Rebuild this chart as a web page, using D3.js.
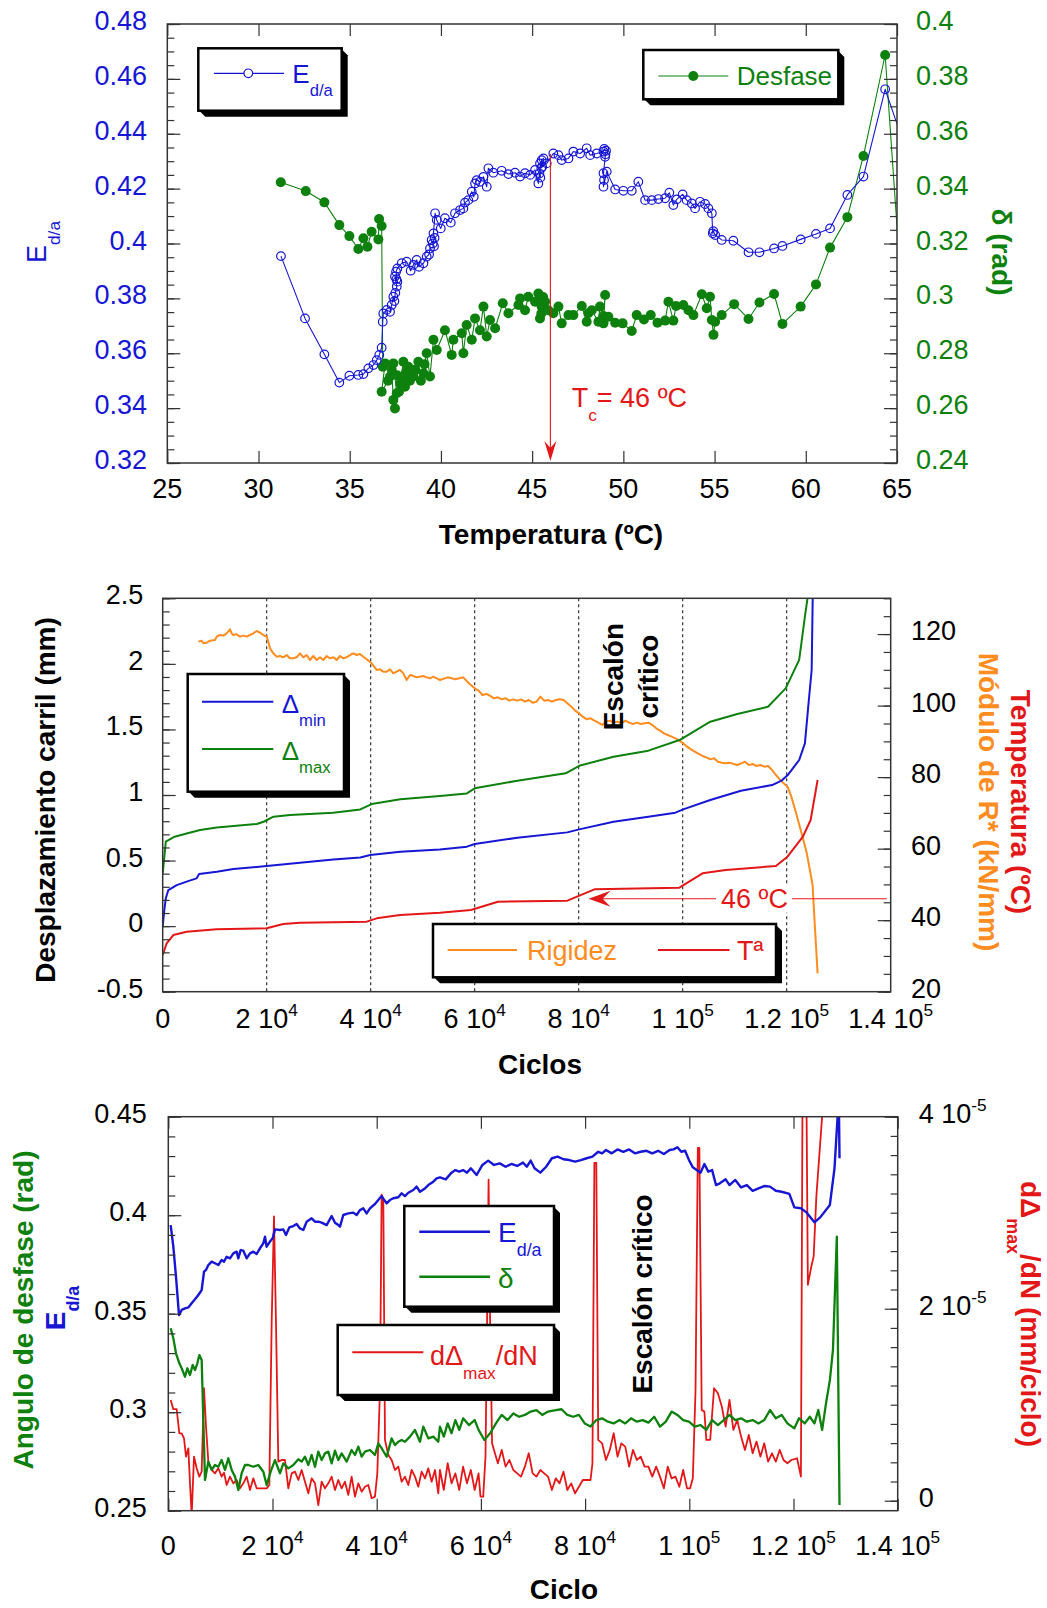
<!DOCTYPE html>
<html>
<head>
<meta charset="utf-8">
<script src="https://cdn.jsdelivr.net/npm/d3@7/dist/d3.min.js"></script>
<style>
  html, body { margin: 0; padding: 0; background: #fff; }
  svg text { font-family: "Liberation Sans", Arial, Helvetica, sans-serif; }
</style>
</head>
<body>
<svg id="chart" width="1047" height="1608"></svg>
<script>
// ================= DATA =================

// --- Panel 1: modulus ratio and phase lag versus temperature ---
const tempTicks = [25, 30, 35, 40, 45, 50, 55, 60, 65];
const edaTicks1 = [0.32, 0.34, 0.36, 0.38, 0.40, 0.42, 0.44, 0.46, 0.48];
const deltaTicks1 = [0.24, 0.26, 0.28, 0.30, 0.32, 0.34, 0.36, 0.38, 0.40];

// [temperature ºC, E d/a]
const edaVsTemp = [
  [31.23,0.3954],[32.55,0.3727],[33.61,0.3596],[34.43,0.3493],[34.98,0.3518],[35.47,0.3521],[35.75,0.3524],
  [36.02,0.3545],[36.30,0.3557],[36.48,0.3575],[36.62,0.3594],[36.75,0.3620],[36.81,0.3715],[36.84,0.3745],
  [37.03,0.3758],[37.21,0.3751],[37.30,0.3776],[37.39,0.3806],[37.45,0.3790],[37.50,0.3820],[37.58,0.3843],
  [37.48,0.3880],[37.56,0.3870],[37.61,0.3861],[37.54,0.3897],[37.61,0.3909],[37.85,0.3928],[38.12,0.3934],
  [38.34,0.3901],[38.49,0.3922],[38.67,0.3940],[38.80,0.3915],[39.04,0.3928],[39.22,0.3952],[39.35,0.3960],
  [39.40,0.3982],[39.62,0.3990],[39.49,0.4013],[39.55,0.4000],[39.65,0.4020],[39.59,0.4037],[39.68,0.4110],
  [39.77,0.4086],[39.99,0.4055],[40.22,0.4092],[40.54,0.4076],[40.77,0.4110],[41.05,0.4122],[41.23,0.4128],
  [41.32,0.4149],[41.50,0.4158],[41.69,0.4189],[41.80,0.4170],[41.87,0.4219],[41.96,0.4231],[42.14,0.4225],
  [42.33,0.4243],[42.51,0.4207],[42.60,0.4274],[42.87,0.4258],[43.33,0.4265],[43.70,0.4253],[44.06,0.4258],
  [44.34,0.4244],[44.61,0.4256],[44.89,0.4250],[45.16,0.4268],[45.34,0.4219],[45.40,0.4255],[45.45,0.4240],
  [45.43,0.4292],[45.50,0.4275],[45.52,0.4304],[45.62,0.4310],[45.55,0.4280],[45.80,0.4292],[46.16,0.4328],
  [46.44,0.4322],[46.62,0.4304],[46.99,0.4310],[47.26,0.4335],[47.63,0.4328],[47.99,0.4347],[48.18,0.4322],
  [48.54,0.4328],[48.91,0.4335],[48.95,0.4345],[49.05,0.4338],[49.00,0.4316],[49.02,0.4325],[48.91,0.4256],
  [48.94,0.4231],[48.91,0.4207],[49.09,0.4262],[49.55,0.4197],[50.00,0.4192],[50.46,0.4192],[50.82,0.4225],
  [51.19,0.4158],[51.56,0.4158],[51.92,0.4162],[52.29,0.4165],[52.52,0.4185],[52.74,0.4140],[52.93,0.4161],
  [53.25,0.4179],[53.47,0.4158],[53.75,0.4146],[53.93,0.4128],[54.20,0.4152],[54.48,0.4144],[54.66,0.4128],
  [54.85,0.4110],[54.90,0.4037],[54.93,0.4045],[55.03,0.4031],[55.39,0.4013],[56.03,0.4010],[56.86,0.3968],
  [57.46,0.3968],[58.26,0.3982],[58.72,0.3991],[59.72,0.4015],[60.56,0.4035],[61.33,0.4055],[62.28,0.4177],
  [63.16,0.4244],[64.35,0.4562],[65.60,0.4320]
];

// [temperature ºC, phase lag rad]
const desfaseVsTemp = [
  [31.22,0.3423],[32.59,0.3391],[33.61,0.3350],[34.43,0.3267],[34.98,0.3227],[35.47,0.3180],[35.75,0.3219],
  [35.97,0.3188],[36.20,0.3243],[36.57,0.3215],[36.61,0.3289],[36.75,0.3264],[36.81,0.2751],[36.94,0.2763],
  [36.75,0.2660],[37.10,0.2700],[37.21,0.2715],[37.30,0.2740],[37.39,0.2630],[37.48,0.2599],[37.58,0.2654],
  [37.39,0.2763],[37.60,0.2720],[37.70,0.2660],[37.76,0.2690],[37.94,0.2769],[37.90,0.2700],[38.03,0.2678],
  [38.10,0.2730],[38.21,0.2751],[38.30,0.2700],[38.49,0.2715],[38.60,0.2740],[38.76,0.2769],[38.90,0.2700],
  [39.04,0.2727],[39.10,0.2760],[39.22,0.2800],[39.40,0.2715],[39.59,0.2849],[39.77,0.2812],[40.22,0.2884],
  [40.59,0.2794],[40.68,0.2849],[41.14,0.2873],[41.23,0.2800],[41.41,0.2903],[41.69,0.2849],[41.87,0.2927],
  [42.14,0.2884],[42.33,0.2970],[42.51,0.2861],[42.69,0.2921],[42.97,0.2891],[43.39,0.2982],[43.70,0.2946],
  [44.25,0.2976],[44.34,0.3000],[44.61,0.2957],[44.79,0.3006],[45.16,0.2988],[45.34,0.3018],[45.43,0.2927],
  [45.52,0.2970],[45.60,0.3005],[45.71,0.2988],[45.50,0.2945],[45.89,0.2957],[46.16,0.2946],[46.44,0.2970],
  [46.62,0.2909],[46.99,0.2939],[47.26,0.2939],[47.72,0.2972],[47.99,0.2915],[48.08,0.2946],[48.27,0.2957],
  [48.63,0.2915],[48.72,0.2970],[48.91,0.2936],[49.00,0.3012],[48.91,0.2909],[49.18,0.2933],[49.55,0.2911],
  [49.96,0.2909],[50.46,0.2881],[50.73,0.2939],[51.13,0.2923],[51.50,0.2939],[51.87,0.2911],[52.29,0.2919],
  [52.47,0.2988],[52.74,0.2919],[52.89,0.2972],[53.29,0.2976],[53.57,0.2957],[53.84,0.2939],[54.30,0.3015],
  [54.57,0.2964],[54.75,0.3006],[54.85,0.2921],[54.94,0.2867],[55.03,0.2915],[55.39,0.2939],[56.07,0.2979],
  [56.86,0.2925],[57.46,0.2985],[58.26,0.3016],[58.72,0.2907],[59.72,0.2970],[60.56,0.3051],[61.33,0.3185],
  [62.28,0.3296],[63.16,0.3519],[64.35,0.3887],[65.60,0.2683]
];
const criticalTemp = 46;

// --- Panel 2: rail displacement, stiffness and temperature versus cycles ---
const cycleTicks = [0, 20000, 40000, 60000, 80000, 100000, 120000, 140000];
const cycleLabels = ["0", "2 10^4", "4 10^4", "6 10^4", "8 10^4", "1 10^5", "1.2 10^5", "1.4 10^5"];
const dispTicks = [-0.5, 0, 0.5, 1, 1.5, 2, 2.5];
const rightTicks2 = [20, 40, 60, 80, 100, 120];
const gridCycles = [20000, 40000, 60000, 80000, 100000, 120000];

// [cycles, mm]
const deltaMin = [
  [0,0.0],[300,0.12],[600,0.212],[1083,0.275],[2700,0.313],[4600,0.339],[6500,0.364],[7000,0.397],
  [10400,0.415],[13600,0.435],[20000,0.458],[26400,0.484],[32800,0.509],[38000,0.524],[39900,0.542],
  [45700,0.567],[53300,0.585],[58500,0.606],[60000,0.626],[68200,0.674],[77800,0.715],[80100,0.738],
  [86700,0.796],[93400,0.834],[98600,0.865],[100100,0.890],[105300,0.962],[111200,1.033],[117200,1.076],
  [119000,1.109],[120200,1.152],[122400,1.267],[123500,1.394],[124200,1.699],[124800,1.953],[125000,2.50],
  [125200,2.90]
];
const deltaMax = [
  [0,0.402],[600,0.644],[2300,0.682],[4600,0.707],[7200,0.733],[10400,0.753],[18100,0.779],[19400,0.796],
  [21300,0.835],[24500,0.847],[32800,0.865],[38000,0.890],[40200,0.931],[45700,0.967],[53300,0.992],
  [58500,1.012],[60000,1.051],[68200,1.109],[77500,1.165],[80100,1.223],[86700,1.292],[93400,1.338],
  [99400,1.419],[105300,1.559],[110500,1.618],[116400,1.673],[119800,1.813],[122400,2.030],[123500,2.360],
  [124000,2.50],[124300,2.80]
];
// [cycles, ºC]
const temperatura = [
  [0,30.26],[762,33.52],[2045,35.85],[4609,36.78],[10378,37.44],[19993,37.72],[23198,38.93],[26403,39.3],
  [39223,39.58],[41146,40.51],[45633,41.45],[53325,42.09],[59265,42.84],[64463,45.17],[77828,45.45],
  [83025,48.62],[99360,49.09],[103815,53.1],[108270,54.03],[117923,55.15],[120150,57.76],[123120,63.35],
  [124605,68.01],[125942,79.2]
];
// [cycles, kN/mm]
const rigidez = [
  [6853,117.88],[7494,118.16],[7814,117.41],[8455,117.6],[9096,118.16],[10058,118.35],[10378,119.28],
  [11019,119.74],[11660,119.56],[12301,120.21],[12942,121.33],[13263,120.21],[13583,119.74],[14224,119.93],
  [14865,119.28],[15506,119.56],[16147,119.28],[16788,119.74],[17429,120.21],[18070,120.86],[18711,120.40],
  [19352,119.74],[19993,119.28],[20314,117.88],[20634,116.01],[21275,114.62],[21916,113.68],[22557,113.87],
  [23198,113.5],[23839,114.15],[24480,113.22],[25121,113.22],[25762,113.5],[26403,114.62],[27044,113.5],
  [27685,114.15],[28326,112.75],[28967,113.87],[29608,112.75],[30249,113.5],[30890,112.75],[31531,113.87],
  [32172,113.22],[32813,113.5],[33454,112.75],[34095,113.87],[34736,113.22],[35377,113.5],[36018,114.15],
  [36659,114.62],[37300,114.15],[37941,114.43],[38582,113.68],[39223,112.94],[40185,111.82],[41146,109.96],
  [41787,110.14],[42428,109.49],[43069,109.49],[43710,110.14],[44351,109.02],[44992,109.49],[45633,109.96],
  [46274,109.02],[46915,107.16],[47556,108.56],[48197,108.28],[48838,107.9],[49479,108.09],[50120,108.28],
  [50761,107.9],[51402,107.63],[52043,108.09],[52684,107.63],[53325,107.16],[54810,107.9],[56295,107.35],
  [57780,107.9],[58894,106.23],[60008,104.83],[60750,104.18],[61493,102.97],[62235,103.25],[62978,102.69],
  [63720,102.03],[64463,102.31],[65205,101.75],[65948,102.03],[66690,101.38],[67433,101.75],[68175,101.38],
  [68918,101.75],[69660,101.1],[70403,101.57],[71145,100.82],[71888,101.1],[72630,102.5],[73373,101.38],
  [74115,101.57],[74858,101.1],[75600,101.57],[76343,101.75],[77085,101.57],[77828,100.63],[78570,99.7],
  [79313,98.58],[80055,97.84],[80798,96.91],[81540,96.16],[82283,96.44],[83025,95.79],[83768,95.23],
  [84510,94.58],[85253,95.51],[85995,95.79],[86738,95.23],[87480,95.51],[88223,95.04],[88965,95.79],
  [89708,95.23],[90450,94.85],[91193,95.23],[91935,94.85],[92678,95.04],[93420,95.23],[94163,94.58],
  [94905,93.64],[95648,92.99],[96390,92.25],[97133,91.78],[97875,91.31],[98618,90.85],[99360,90.19],
  [100103,89.45],[100845,88.52],[101588,87.77],[102330,87.12],[103073,86.47],[103815,85.91],[104558,85.53],
  [105300,84.97],[106043,85.25],[106785,84.32],[107528,84.04],[108270,83.86],[109013,84.04],[109755,83.67],
  [110498,83.39],[111240,83.86],[111983,84.32],[112725,83.39],[113468,83.67],[114210,83.11],[114953,83.39],
  [115695,82.92],[116438,83.11],[117180,81.99],[117923,80.59],[118665,79.38],[119408,78.26],[120150,77.33],
  [120893,74.54],[121635,70.81],[122378,66.89],[123120,62.88],[123863,58.69],[124457,54.03],[124976,49.83],
  [125348,40.05],[125645,32.59],[125942,25.13]
];
const arrowCycle2 = 81900;

// --- Panel 3: modulus ratio, phase lag and creep rate versus cycles ---
const leftTicks3 = [0.25, 0.30, 0.35, 0.40, 0.45];
const rateTicks = [0, 2, 4];               // x 10^-5 mm/ciclo
const rateLabels = ["0", "2 10^-5", "4 10^-5"];

// [cycles, E d/a]
const edaVsCycle = [
  [455,0.3950],[966,0.3840],[1478,0.3688],[2053,0.3493],[2565,0.3519],[3205,0.3527],[3844,0.3532],
  [4484,0.3553],[5124,0.3573],[5763,0.3595],[6403,0.3620],[6851,0.3713],[7235,0.3722],[7682,0.3747],
  [8322,0.3764],[8962,0.3756],[9601,0.3747],[10241,0.3773],[10689,0.3764],[11201,0.3789],[11840,0.3781],
  [12480,0.3806],[13120,0.3815],[13439,0.3781],[13887,0.3823],[14399,0.3820],[15039,0.3781],[15678,0.3806],
  [16318,0.3815],[16958,0.3803],[17597,0.3832],[18237,0.3857],[18557,0.3891],[18877,0.3840],[19516,0.3866],
  [20028,0.3883],[20476,0.3928],[21436,0.3925],[22075,0.3928],[22587,0.3899],[23226,0.3938],[23994,0.3945],
  [24634,0.3955],[25273,0.3933],[25913,0.3925],[26553,0.3967],[27513,0.3984],[28152,0.3967],[28792,0.3967],
  [29432,0.3962],[30391,0.3950],[31351,0.3996],[31990,0.3962],[32630,0.3950],[32950,0.3942],[33589,0.4001],
  [34549,0.4009],[35508,0.4013],[36148,0.4001],[36788,0.4026],[37427,0.4035],[38067,0.4009],[38707,0.4035],
  [39666,0.4057],[40306,0.4077],[40946,0.4097],[41905,0.4060],[42545,0.4077],[43184,0.4086],[44144,0.4091],
  [44784,0.4111],[45423,0.4097],[46063,0.4114],[47022,0.4128],[47662,0.4145],[48302,0.4119],[49261,0.4136],
  [49901,0.4153],[50861,0.4170],[51500,0.4187],[52140,0.4192],[53252,0.4182],[54363,0.4216],[55104,0.4229],
  [55845,0.4221],[56586,0.4229],[57327,0.4216],[58068,0.4238],[59180,0.4204],[60291,0.4255],[61403,0.4277],
  [62514,0.4255],[63626,0.4263],[64737,0.4246],[65849,0.4260],[66960,0.4250],[68072,0.4267],[68813,0.4246],
  [69554,0.4277],[70295,0.4238],[71406,0.4216],[72518,0.4246],[73629,0.4289],[74741,0.4297],[75852,0.4284],
  [76964,0.4280],[78075,0.4272],[79187,0.4280],[80298,0.4289],[81410,0.4297],[82521,0.4322],[83262,0.4314],
  [84003,0.4331],[85115,0.4314],[86226,0.4334],[87338,0.4322],[88449,0.4334],[89561,0.4314],[90672,0.4322],
  [91784,0.4327],[92895,0.4314],[94007,0.4327],[95118,0.4311],[96230,0.4331],[96971,0.4334],[97712,0.4345],
  [98453,0.4322],[99194,0.4327],[99935,0.4280],[100676,0.4243],[101417,0.4229],[102158,0.4216],[102899,0.4260],
  [103640,0.4221],[104381,0.4229],[105122,0.4153],[105863,0.4162],[106974,0.4182],[107715,0.4153],
  [108827,0.4179],[109938,0.4141],[111050,0.4153],[112161,0.4124],[113273,0.4136],[114384,0.4148],
  [115496,0.4145],[116607,0.4124],[117719,0.4119],[119201,0.4108],[120164,0.4040],[121424,0.4035],
  [122535,0.4013],[124017,0.3964],[125129,0.3989],[126981,0.4052],[127870,0.4238],[128463,0.4500],
  [128650,0.4700],[128833,0.4289]
];
// [cycles, phase lag rad]
const deltaVsCycle = [
  [455,0.3426],[967,0.3375],[1479,0.3299],[2119,0.3248],[2567,0.3223],[3206,0.3180],[3654,0.3223],
  [4166,0.3189],[4678,0.3240],[5126,0.3214],[5573,0.3248],[5957,0.3290],[6405,0.3265],[7045,0.2656],
  [7684,0.2749],[8324,0.2707],[8964,0.2732],[9603,0.2723],[10243,0.2757],[10883,0.2707],[11522,0.2766],
  [12162,0.2707],[12802,0.2673],[13441,0.2605],[14081,0.2690],[14721,0.2732],[15360,0.2732],[16320,0.2723],
  [17280,0.2732],[18239,0.2698],[18879,0.2630],[19647,0.2698],[20479,0.2757],[21438,0.2690],[22078,0.2740],
  [23038,0.2715],[23997,0.2732],[24957,0.2761],[25596,0.2749],[26236,0.2774],[26876,0.2732],[27515,0.2783],
  [28155,0.2723],[28795,0.2800],[29434,0.2757],[30074,0.2791],[30714,0.2800],[31353,0.2740],[31993,0.2805],
  [32633,0.2757],[33272,0.2791],[34232,0.2749],[35191,0.2808],[35831,0.2783],[36471,0.2825],[37110,0.2774],
  [37750,0.2800],[38710,0.2808],[39669,0.2783],[40309,0.2842],[40949,0.2817],[41908,0.2774],[42868,0.2867],
  [43507,0.2833],[44147,0.2850],[44787,0.2859],[45426,0.2850],[46386,0.2876],[47346,0.2910],[48305,0.2850],
  [48945,0.2927],[49904,0.2867],[50864,0.2876],[51823,0.2850],[52140,0.2927],[52881,0.2876],[53622,0.2943],
  [54363,0.2893],[55104,0.2960],[55845,0.2910],[56586,0.2969],[57698,0.2935],[58809,0.2960],[59550,0.2910],
  [60662,0.2859],[61773,0.2893],[62885,0.2943],[63996,0.2986],[65108,0.2960],[66219,0.2994],[67331,0.2977],
  [68442,0.2986],[69554,0.3003],[70665,0.3011],[71777,0.2986],[72888,0.3003],[74370,0.3011],[75482,0.3015],
  [76593,0.2986],[77705,0.2977],[78816,0.2986],[79928,0.2943],[81039,0.2927],[82151,0.2960],[83262,0.2969],
  [84374,0.2952],[85485,0.2943],[86597,0.2960],[87708,0.2943],[88820,0.2969],[89931,0.2952],[91043,0.2960],
  [92154,0.2947],[93266,0.2977],[94377,0.2927],[95489,0.2952],[96600,0.3003],[97712,0.2986],[98823,0.2960],
  [99935,0.2952],[101046,0.2927],[102158,0.2935],[103269,0.2910],[104381,0.2960],[105492,0.2935],
  [106604,0.2960],[107715,0.2986],[108827,0.2960],[109938,0.2969],[111050,0.2952],[112161,0.2960],
  [113273,0.2943],[114384,0.2960],[115496,0.3011],[116607,0.2969],[117719,0.2986],[118830,0.2943],
  [120164,0.2918],[121053,0.2969],[122165,0.2943],[123128,0.2977],[124017,0.2943],[124758,0.3011],
  [125499,0.2910],[126240,0.3045],[126981,0.3163],[127574,0.3316],[128315,0.3891],[128833,0.2529]
];
// [cycles, dΔmax/dN in 10^-5 mm/ciclo]
const rateVsCycle = [
  [455,1.050],[967,0.953],[1607,0.953],[2119,0.702],[2567,0.702],[3014,0.650],[3398,0.459],[3846,0.546],
  [4166,0.181],[4486,-0.15],[4934,0.459],[5446,0.338],[5957,0.251],[6405,0.303],[6853,1.172],[7237,0.772],
  [7684,0.407],[8324,0.320],[8964,0.285],[9603,0.338],[10243,0.251],[10691,0.292],[11202,0.164],[11842,0.251],
  [12482,0.181],[13122,0.216],[13761,0.129],[14401,0.181],[15041,0.251],[15680,0.112],[16320,0.233],
  [16960,0.129],[17600,0.129],[18239,0.129],[18879,0.129],[19391,0.164],[19839,1.849],[20287,2.962],
  [20671,1.849],[21118,0.407],[21758,0.424],[22398,0.424],[23038,0.129],[23677,0.285],[24317,0.303],
  [24957,0.216],[25596,0.320],[26236,0.198],[26876,0.077],[27515,0.233],[28155,0.181],[28795,-0.045],
  [29434,0.198],[30074,0.129],[30714,0.181],[31353,0.251],[31993,0.112],[32633,0.216],[33272,0.129],
  [33912,0.198],[34552,0.060],[35191,0.251],[35831,0.042],[36471,0.181],[37110,0.094],[37750,0.146],
  [38390,0.164],[39029,0.025],[39669,0.042],[40117,0.285],[40629,1.154],[40949,3.188],[41269,3.136],
  [41589,0.633],[42228,0.476],[42868,0.424],[43507,0.320],[44147,0.355],[44787,0.198],[45426,0.251],
  [46066,0.164],[46706,0.320],[47346,0.251],[47985,0.146],[48625,0.303],[49265,0.233],[49904,0.338],
  [50544,0.198],[51184,0.320],[51823,0.077],[52140,0.320],[52881,0.112],[53622,0.390],[54363,0.181],
  [55104,0.285],[55845,0.112],[56586,0.355],[57327,0.181],[58068,0.320],[58809,0.112],[59550,0.285],
  [59921,0.042],[60439,0.042],[60884,0.459],[61180,1.849],[61477,3.344],[61773,1.849],[62144,0.598],
  [62514,0.529],[63255,0.390],[63996,0.529],[64737,0.355],[65478,0.424],[66219,0.320],[66960,0.285],
  [67701,0.251],[68442,0.355],[69183,0.494],[69924,0.285],[70665,0.251],[71406,0.320],[72147,0.285],
  [72888,0.251],[73629,0.112],[74370,0.233],[75111,0.181],[75852,0.303],[76593,0.112],[77334,0.181],
  [78075,0.077],[78816,0.146],[79557,0.216],[81039,0.216],[81410,0.390],[81780,3.518],[82151,3.518],
  [82521,0.633],[83262,0.598],[84003,0.424],[84744,0.529],[85485,0.703],[86226,0.459],[86967,0.598],
  [87708,0.563],[88449,0.355],[89190,0.529],[89931,0.424],[90672,0.459],[91413,0.355],[92154,0.355],
  [92895,0.251],[93636,0.355],[94377,0.251],[95118,0.129],[95859,0.355],[96600,0.233],[97341,0.251],
  [98082,0.146],[98823,0.320],[99564,0.129],[100157,0.129],[100676,0.233],[101194,1.154],[101639,3.674],
  [101935,3.674],[102380,0.946],[102899,0.928],[103269,0.633],[104010,0.633],[104751,1.172],[105492,1.119],
  [106233,0.981],[106974,0.772],[107715,1.050],[108456,0.737],[109197,0.841],[109938,0.668],[110679,0.529],
  [111420,0.685],[112161,0.494],[112902,0.616],[113643,0.459],[114384,0.598],[115125,0.407],[115866,0.494],
  [116607,0.407],[117348,0.529],[118089,0.424],[118830,0.390],[119571,0.424],[120683,0.442],[121424,0.251],
  [121868,6.0],[122240,6.0],[122757,2.249],[123424,2.440],[123869,2.545],[124388,3.170],[125499,4.005],
  [126240,5.5]
];

// ================= DRAWING =================
const COL = { blue: "#1616d4", green: "#0d800d", red: "#e31717", orange: "#ff8c1e", frame: "#333" };
const svg = d3.select("#chart");
const defs = svg.append("defs");
const TICK_DY = 6;   // baseline offset of value labels from their tick

function clipRect(id, p) {
  defs.append("clipPath").attr("id", id).append("rect")
    .attr("x", p.l).attr("y", p.t).attr("width", p.r - p.l).attr("height", p.b - p.t);
  return `url(#${id})`;
}

// inward tick marks built with d3 axes
function tickSet(axisFn, scale, values, size, transform) {
  const g = svg.append("g").attr("transform", transform)
    .call(axisFn(scale).tickValues(values).tickSize(-size).tickFormat(""));
  g.select(".domain").remove();
  g.selectAll(".tick line").attr("stroke", COL.frame).attr("stroke-width", 1.2);
  return g;
}

// text with optional subscript / superscript runs
function rich(x, y, parts, size, opt = {}) {
  const t = svg.append("text").attr("x", x).attr("y", y)
    .attr("font-size", size).attr("fill", opt.fill || "#000")
    .attr("text-anchor", opt.anchor || "start")
    .attr("font-weight", opt.bold ? "bold" : "normal");
  if (opt.rotate) t.attr("transform", `rotate(${opt.rotate},${x},${y})`);
  let cur = 0;
  parts.forEach(p => {
    const [s, kind] = Array.isArray(p) ? p : [p, ""];
    const off = kind === "sub" ? size * 0.5 : kind === "sup" ? -size * 0.45 : 0;
    const ts = t.append("tspan").attr("dy", off - cur).text(s);
    if (kind) ts.attr("font-size", size * 0.64);
    cur = off;
  });
  return t;
}
const parseLabel = s => { const [a, b] = s.split("^"); return b === undefined ? [a] : [a, [b, "sup"]]; };
const fmt = v => String(+v.toFixed(3));

function frame(p) {
  svg.append("rect").attr("x", p.l).attr("y", p.t).attr("width", p.r - p.l).attr("height", p.b - p.t)
    .attr("fill", "none").attr("stroke", COL.frame).attr("stroke-width", 1.5);
}

function legendBox(x, y, w, h) {
  svg.append("path")
    .attr("d", `M${x + w},${y + 1} L${x + w + 6},${y + 7} L${x + w + 6},${y + h + 6} L${x + 7},${y + h + 6} L${x + 1},${y + h} Z`)
    .attr("fill", "#000");
  svg.append("rect").attr("x", x).attr("y", y).attr("width", w).attr("height", h)
    .attr("fill", "#fff").attr("stroke", "#000").attr("stroke-width", 2.5);
}
function swatch(x0, x1, y, color, w) {
  svg.append("line").attr("x1", x0).attr("x2", x1).attr("y1", y).attr("y2", y)
    .attr("stroke", color).attr("stroke-width", w);
}
function linePath(g, data, x, y, color, w) {
  g.append("path").datum(data)
    .attr("d", d3.line().x(d => x(d[0])).y(d => y(d[1])))
    .attr("fill", "none").attr("stroke", color).attr("stroke-width", w).attr("stroke-linejoin", "round");
}

// ---------- Panel 1 ----------
const P1 = { l: 167.3, r: 897, t: 24, b: 463 };
const x1 = d3.scaleLinear().domain([25, 65]).range([P1.l, P1.r]);
const y1L = d3.scaleLinear().domain([0.32, 0.48]).range([P1.b, P1.t]);
const y1R = d3.scaleLinear().domain([0.24, 0.40]).range([P1.b, P1.t]);

const g1 = svg.append("g").attr("clip-path", clipRect("clip1", P1));
linePath(g1, desfaseVsTemp, x1, y1R, COL.green, 1.1);
g1.append("g").selectAll("circle").data(desfaseVsTemp).join("circle")
  .attr("cx", d => x1(d[0])).attr("cy", d => y1R(d[1])).attr("r", 5).attr("fill", COL.green);
linePath(g1, edaVsTemp, x1, y1L, COL.blue, 1.1);
g1.append("g").selectAll("circle").data(edaVsTemp).join("circle")
  .attr("cx", d => x1(d[0])).attr("cy", d => y1L(d[1])).attr("r", 4.3)
  .attr("fill", "none").attr("stroke", COL.blue).attr("stroke-width", 1.2);

frame(P1);
tickSet(d3.axisBottom, x1, tempTicks, 12, `translate(0,${P1.b})`);
tickSet(d3.axisTop, x1, tempTicks, 12, `translate(0,${P1.t})`);
tickSet(d3.axisLeft, y1L, edaTicks1, 13, `translate(${P1.l},0)`);
tickSet(d3.axisLeft, y1L, d3.range(0.32, 0.4801, 0.005), 7, `translate(${P1.l},0)`);
tickSet(d3.axisRight, y1R, deltaTicks1, 13, `translate(${P1.r},0)`);
tickSet(d3.axisRight, y1R, d3.range(0.24, 0.4001, 0.005), 7, `translate(${P1.r},0)`);

tempTicks.forEach(v => rich(x1(v), 498, [String(v)], 27, { anchor: "middle" }));
edaTicks1.forEach(v => rich(147, y1L(v) + TICK_DY, [fmt(v)], 27, { anchor: "end", fill: COL.blue }));
deltaTicks1.forEach(v => rich(916, y1R(v) + TICK_DY, [fmt(v)], 27, { fill: COL.green }));

rich(551, 544, ["Temperatura (ºC)"], 28, { anchor: "middle", bold: true });
rich(46, 242, ["E", ["d/a", "sub"]], 27, { anchor: "middle", rotate: -90, fill: COL.blue });
rich(992, 252, ["δ (rad)"], 28, { anchor: "middle", rotate: 90, fill: COL.green, bold: true });

// critical temperature marker
{
  const xc = x1(criticalTemp), tip = P1.b - 2;
  svg.append("line").attr("x1", xc).attr("x2", xc).attr("y1", y1L(0.4326)).attr("y2", tip - 10)
    .attr("stroke", COL.red).attr("stroke-width", 1.1);
  svg.append("path").attr("d", `M${xc},${tip} L${xc - 6},${tip - 20} L${xc},${tip - 13} L${xc + 6},${tip - 20} Z`)
    .attr("fill", COL.red);
  rich(571.7, 407, ["T", ["c", "sub"], "= " + criticalTemp + " ºC"], 27, { fill: COL.red });
}

// legends
legendBox(198.3, 48.3, 143.4, 62.4);
swatch(214, 284, 73.3, COL.blue, 1.2);
svg.append("circle").attr("cx", 248.3).attr("cy", 73.3).attr("r", 4.3)
  .attr("fill", "#fff").attr("stroke", COL.blue).attr("stroke-width", 1.2);
rich(292.3, 82.7, ["E", ["d/a", "sub"]], 26, { fill: COL.blue });

legendBox(643.3, 50, 195, 49.3);
swatch(658.3, 728.3, 76, COL.green, 1.2);
svg.append("circle").attr("cx", 693.3).attr("cy", 76).attr("r", 5).attr("fill", COL.green);
rich(736.7, 85, ["Desfase"], 26, { fill: COL.green });

// ---------- Panel 2 ----------
const P2 = { l: 162.7, r: 890.7, t: 598.3, b: 991.7 };
const x2 = d3.scaleLinear().domain([0, 140000]).range([P2.l, P2.r]);
const y2L = d3.scaleLinear().domain([-0.5, 2.5]).range([P2.b, P2.t]);
const y2R = d3.scaleLinear().domain([20, 130]).range([P2.b, P2.t]);

svg.append("g").selectAll("line").data(gridCycles).join("line")
  .attr("x1", d => x2(d)).attr("x2", d => x2(d)).attr("y1", P2.t).attr("y2", P2.b)
  .attr("stroke", "#222").attr("stroke-width", 1.1).attr("stroke-dasharray", "3,3");

const g2 = svg.append("g").attr("clip-path", clipRect("clip2", P2));
linePath(g2, rigidez, x2, y2R, COL.orange, 2);
linePath(g2, temperatura, x2, y2R, COL.red, 2);
linePath(g2, deltaMax, x2, y2L, COL.green, 2);
linePath(g2, deltaMin, x2, y2L, COL.blue, 2);

frame(P2);
tickSet(d3.axisLeft, y2L, dispTicks, 13, `translate(${P2.l},0)`);
tickSet(d3.axisLeft, y2L, d3.range(-0.5, 2.501, 0.1), 7, `translate(${P2.l},0)`);
tickSet(d3.axisRight, y2R, rightTicks2, 13, `translate(${P2.r},0)`);
tickSet(d3.axisRight, y2R, d3.range(20, 130.1, 5), 7, `translate(${P2.r},0)`);

cycleTicks.forEach((v, i) => rich(x2(v), 1028, parseLabel(cycleLabels[i]), 27, { anchor: "middle" }));
dispTicks.forEach(v => rich(143.3, y2L(v) + TICK_DY, [fmt(v)], 27, { anchor: "end" }));
rightTicks2.forEach(v => rich(911, y2R(v) + TICK_DY, [String(v)], 27));

rich(540, 1074, ["Ciclos"], 28, { anchor: "middle", bold: true });
rich(55, 800, ["Desplazamiento carril (mm)"], 28, { anchor: "middle", rotate: -90, bold: true });
rich(1011, 802, ["Temperatura (ºC)"], 28, { anchor: "middle", rotate: 90, bold: true, fill: COL.red });
rich(979, 802, ["Módulo de R* (kN/mm)"], 28, { anchor: "middle", rotate: 90, bold: true, fill: COL.orange });

rich(623, 676.6, ["Escalón"], 28, { anchor: "middle", rotate: -90, bold: true });
rich(658, 676.6, ["crítico"], 28, { anchor: "middle", rotate: -90, bold: true });

// 46 ºC marker
{
  const yc = y2R(criticalTemp), tip = x2(arrowCycle2);
  svg.append("line").attr("x1", tip + 8).attr("x2", P2.r - 4).attr("y1", yc).attr("y2", yc)
    .attr("stroke", COL.red).attr("stroke-width", 1.1);
  svg.append("path").attr("d", `M${tip},${yc} L${tip + 22},${yc - 8} L${tip + 14},${yc} L${tip + 22},${yc + 8} Z`)
    .attr("fill", COL.red);
  svg.append("rect").attr("x", 716).attr("y", yc - 14).attr("width", 76).attr("height", 28).attr("fill", "#fff");
  rich(754.5, yc + 9.5, [criticalTemp + " ºC"], 27, { anchor: "middle", fill: COL.red });
}

legendBox(187.7, 674, 156.3, 117.7);
swatch(202, 273.3, 701.7, COL.blue, 2);
swatch(202, 273.3, 749, COL.green, 2);
rich(281.7, 712.7, ["Δ", ["min", "sub"]], 26, { fill: COL.blue });
rich(281.7, 760, ["Δ", ["max", "sub"]], 26, { fill: COL.green });

legendBox(433, 924, 343, 53.3);
swatch(447.7, 517, 950, COL.orange, 2);
rich(527, 960, ["Rigidez"], 27, { fill: COL.orange });
swatch(658, 729.6, 950, COL.red, 2);
rich(737, 960, ["Tª"], 27, { fill: COL.red });

// ---------- Panel 3 ----------
const P3 = { l: 168.3, r: 897.7, t: 1116.7, b: 1510.7 };
const x3 = d3.scaleLinear().domain([0, 140000]).range([P3.l, P3.r]);
const y3L = d3.scaleLinear().domain([0.25, 0.45]).range([P3.b, P3.t]);
const y3R = d3.scaleLinear().domain([-0.104, 4]).range([P3.b, P3.t]);

const g3 = svg.append("g").attr("clip-path", clipRect("clip3", P3));
linePath(g3, rateVsCycle, x3, y3R, COL.red, 1.8);
linePath(g3, deltaVsCycle, x3, y3L, COL.green, 2.3);
linePath(g3, edaVsCycle, x3, y3L, COL.blue, 2.4);

frame(P3);
tickSet(d3.axisBottom, x3, cycleTicks, 12, `translate(0,${P3.b})`);
tickSet(d3.axisTop, x3, cycleTicks, 12, `translate(0,${P3.t})`);
tickSet(d3.axisLeft, y3L, leftTicks3, 13, `translate(${P3.l},0)`);
tickSet(d3.axisLeft, y3L, d3.range(0.25, 0.4501, 0.01), 7, `translate(${P3.l},0)`);
tickSet(d3.axisRight, y3R, rateTicks, 13, `translate(${P3.r},0)`);
tickSet(d3.axisRight, y3R, d3.range(0, 4.01, 0.2), 7, `translate(${P3.r},0)`);

cycleTicks.forEach((v, i) => rich(x3(v), 1555, parseLabel(cycleLabels[i]), 27, { anchor: "middle" }));
leftTicks3.forEach(v => rich(146.7, y3L(v) + TICK_DY, [fmt(v)], 27, { anchor: "end" }));
rateTicks.forEach((v, i) => rich(918.8, y3R(v) + TICK_DY, parseLabel(rateLabels[i]), 27));

rich(564, 1599, ["Ciclo"], 28, { anchor: "middle", bold: true });
rich(33, 1310, ["Angulo de desfase (rad)"], 28, { anchor: "middle", rotate: -90, bold: true, fill: COL.green });
rich(65, 1308, ["E", ["d/a", "sub"]], 28, { anchor: "middle", rotate: -90, bold: true, fill: COL.blue });
rich(1021, 1314, ["dΔ", ["max", "sub"], "/dN (mm/ciclo)"], 28, { anchor: "middle", rotate: 90, bold: true, fill: COL.red });

rich(652, 1294, ["Escalón crítico"], 28, { anchor: "middle", rotate: -90, bold: true });

legendBox(404.3, 1206, 149.7, 100.7);
swatch(419.3, 490, 1231.7, COL.blue, 2.4);
swatch(419.3, 490, 1276.7, COL.green, 2.4);
rich(498, 1241.7, ["E", ["d/a", "sub"]], 28, { fill: COL.blue });
rich(498, 1288, ["δ"], 28, { fill: COL.green });

legendBox(337.7, 1325, 216.3, 70);
swatch(352.3, 423.3, 1352.3, COL.red, 2);
rich(430, 1365, ["dΔ", ["max", "sub"], "/dN"], 27, { fill: COL.red });
</script>
</body>
</html>
